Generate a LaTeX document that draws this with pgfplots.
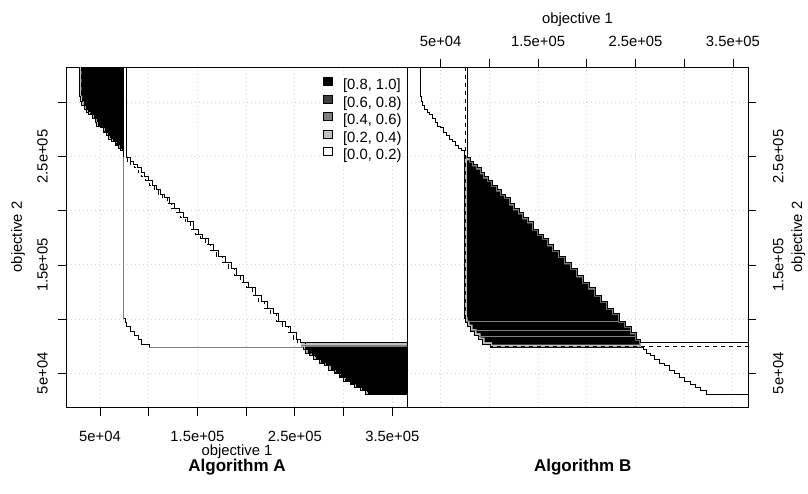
\documentclass[border=0pt]{standalone}
\usepackage{fontspec}
\setmainfont{Liberation Sans}
\usepackage{pgfplots}
\pgfplotsset{compat=1.18}
\definecolor{gA}{HTML}{BFBFBF}
\definecolor{gB}{HTML}{7F7F7F}
\definecolor{gC}{HTML}{3F3F3F}
\definecolor{gridc}{HTML}{D3D3D3}
\pgfplotsset{
  eafbase/.style={
    scale only axis, width=340.6pt, height=340pt,
    xmin=15822, xmax=365396, ymin=18911, ymax=332565,
    xtick={50000,100000,150000,200000,250000,300000,350000},
    ytick={50000,100000,150000,200000,250000,300000},
    xticklabels={5e+04,,1.5e+05,,2.5e+05,,3.5e+05},
    yticklabels={5e+04,,1.5e+05,,2.5e+05,},
    grid=major, major grid style={gridc, dash pattern=on 1pt off 3pt, line width=0.9pt},
    tick align=outside, major tick length=8.5pt,
    tick style={black, line width=0.8pt},
    axis line style={line width=0.8pt},
    scaled ticks=false,
    tick label style={font=\fontsize{14.8}{17}\selectfont},
    label style={font=\fontsize{14.8}{17}\selectfont, inner sep=0pt},
    every axis title/.style={font=\bfseries\fontsize{17}{20}\selectfont, anchor=center, inner sep=0pt, at={(0.5,-0.178)}},
  },
  best/.style={black, line width=1pt, const plot mark left, forget plot},
  worst/.style={black, line width=1pt, const plot mark left, forget plot},
  med/.style={black, line width=1pt, const plot mark left, dash pattern=on 4pt off 4pt, forget plot},
}
\begin{document}
\begin{tikzpicture}
\path[use as bounding box] (-66.7pt,-86pt) rectangle (741.3pt,407pt);
% ---------------- Algorithm A ----------------
\begin{axis}[eafbase, at={(0pt,0pt)}, anchor=south west,
  xtick pos=left, ytick pos=left,
  xticklabel shift=12pt, yticklabel shift=7pt,
  yticklabel style={rotate=90, anchor=south},
  xlabel={objective 1}, ylabel={objective 2},
  xlabel style={at={(axis description cs:0.5,-0.131)}, anchor=center},
  ylabel style={at={(axis description cs:-0.143,0.5)}, anchor=center},
  title={Algorithm A},
  legend style={at={(axis description cs:0.9894,0.9756)}, anchor=north east, draw=none, fill=white,
    inner sep=2pt, font=\fontsize{14.8}{17}\selectfont, row sep=1.5pt,
    nodes={inner sep=0pt, text height=11pt, text depth=3.5pt}},
  legend cell align=left,
  legend image code/.code={\draw[#1, line width=0.8pt] (0pt,0.3pt) rectangle (8.3pt,8.3pt); \path (19pt,0pt);},
]
% top-left region (A better)
\addplot[fill=gA, draw=none, const plot mark left, forget plot] coordinates {
(29000,340000) (29000,305800) (30000,301200) (31500,297500) (33600,293800) (36100,291000)
(38700,288300) (41800,285500) (44900,281800) (46900,278100) (50000,276300) (53100,272600)
(56200,269800) (59200,266100) (62300,263400) (65400,260600) (68500,257800) (71000,255100)
(74600,251500) (74600,340000)} -- cycle;
\addplot[fill=black, draw=none, const plot mark left, forget plot] coordinates {
(31000,340000) (31000,305800) (32000,301200) (33500,297500) (35600,293800) (38100,291000)
(40700,288300) (43800,285500) (46900,281800) (48900,278100) (52000,276300) (55100,272600)
(58200,269800) (61200,266100) (64300,263400) (67400,260600) (70500,257800) (73000,255100)
(74600,253300) (74600,340000)} -- cycle;
% bottom-right region (A better)
\addplot[fill=gA, draw=none, forget plot] coordinates {
(256000,74700) (365400,74700) (365400,78400) (256000,78400)} -- cycle;
\addplot[gB, line width=1pt, forget plot] coordinates {(256000,75300) (365400,75300)};
\addplot[fill=gA, draw=none, const plot mark left, forget plot] coordinates {
(258400,74700) (258400,71500) (261400,68700) (265500,66000) (269600,62300) (274800,59500)
(279900,57200) (285000,53000) (290200,49400) (295300,45700) (300400,42400) (306600,39700)
(311700,36900) (316900,34100) (323000,30500) (365400,30500) (365400,74700)} -- cycle;
\addplot[fill=black, draw=none, const plot mark left, forget plot] coordinates {
(260400,74700) (260400,71500) (263400,68700) (267500,66000) (271600,62300) (276800,59500)
(281900,57200) (287000,53000) (292200,49400) (297300,45700) (302400,42400) (308600,39700)
(313700,36900) (318900,34100) (325000,30500) (365400,30500) (365400,74700)} -- cycle;
% grand best
\addplot[best] coordinates {
(29000,340000) (29000,305800) (30000,301200) (31500,297500) (33600,293800) (36100,291000)
(38700,288300) (41800,285500) (44900,281800) (46900,278100) (50000,276300) (53100,272600)
(56200,269800) (59200,266100) (62300,263400) (65400,260600) (68500,257800) (71000,255100)
(74100,100100) (75700,96900) (77700,93200) (80800,89000) (84900,85300) (89000,81200)
(93100,77000) (100800,73800) (258400,71500) (261400,68700) (265500,66000) (269600,62300)
(274800,59500) (279900,57200) (285000,53000) (290200,49400) (295300,45700) (300400,42400)
(306600,39700) (311700,36900) (316900,34100) (323000,30500) (365400,30500)};
\addplot[gB, line width=1.2pt, forget plot] coordinates {(74100,251000) (74100,100100)};
\addplot[gB, line width=1.2pt, forget plot] coordinates {(100800,73800) (258400,73800)};
% grand worst
\addplot[worst] coordinates {
(77200,340000) (77200,249500) (80800,245800) (83900,242200) (88000,239400) (92100,234800)
(95200,231100) (99300,228300) (103400,223700) (108500,219100) (112600,215400) (116700,212600)
(121800,206200) (126000,201600) (131100,197900) (135200,193300) (140300,189600) (145500,183100)
(150600,178500) (155700,174800) (160900,168400) (166000,163700) (172100,158200) (178300,151800)
(184500,147100) (190600,139800) (196800,134200) (202900,128700) (209100,122200) (215300,116700)
(221400,110200) (227600,105600) (233700,98200) (239900,93600) (246000,87200) (251200,81600)
(255300,78400) (365400,78400)};
% median of A
\addplot[med] coordinates {
(31000,340000) (31000,305800) (32000,301200) (33500,297500) (35600,293800) (38100,291000)
(40700,288300) (43800,285500) (46900,281800) (48900,278100) (52000,276300) (55100,272600)
(58200,269800) (61200,266100) (64300,263400) (67400,260600) (70500,257800) (73000,255100)
(74200,249500) (77800,245800) (80900,242200) (85000,239400) (89100,234800) (92200,231100)
(96300,228300) (100400,223700) (105500,219100) (109600,215400) (113700,212600) (118800,206200)
(123000,201600) (128100,197900) (132200,193300) (137300,189600) (142500,183100) (147600,178500)
(152700,174800) (157900,168400) (163000,163700) (169100,158200) (175300,151800) (181500,147100)
(187600,139800) (193800,134200) (199900,128700) (206100,122200) (212300,116700) (218400,110200)
(224600,105600) (230700,98200) (236900,93600) (243000,87200) (248200,81600) (252300,78400)
(260400,71500) (263400,68700) (267500,66000) (271600,62300) (276800,59500) (281900,57200)
(287000,53000) (292200,49400) (297300,45700) (302400,42400) (308600,39700) (313700,36900)
(318900,34100) (325000,30500) (365400,30500)};
\addlegendimage{fill=black, draw=black}\addlegendentry{[0.8, 1.0]}
\addlegendimage{fill=gC, draw=black}\addlegendentry{[0.6, 0.8)}
\addlegendimage{fill=gB, draw=black}\addlegendentry{[0.4, 0.6)}
\addlegendimage{fill=gA, draw=black}\addlegendentry{[0.2, 0.4)}
\addlegendimage{fill=white, draw=black}\addlegendentry{[0.0, 0.2)}
\end{axis}
% ---------------- Algorithm B ----------------
\begin{axis}[eafbase, at={(340.6pt,0pt)}, anchor=south west,
  xtick pos=right, ytick pos=right, xticklabel pos=right, yticklabel pos=right,
  xticklabel shift=8pt, yticklabel shift=13pt,
  yticklabel style={rotate=90, anchor=north},
  xlabel={objective 1}, ylabel={objective 2},
  xlabel style={at={(axis description cs:0.5,1.138)}, anchor=center},
  ylabel style={at={(axis description cs:1.148,0.5)}, anchor=center, rotate=0},
  title={Algorithm B}, title style={at={(0.515,-0.178)}},
]
% mid-grey base of the B region
\addplot[fill=gB, draw=none, const plot mark left, forget plot] coordinates {
(75100,250500) (77200,249500) (80800,245800) (83900,242200) (88000,239400) (92100,234800)
(95200,231100) (99300,228300) (103400,223700) (108500,219100) (112600,215400) (116700,212600)
(121800,206200) (126000,201600) (131100,197900) (135200,193300) (140300,189600) (145500,183100)
(150600,178500) (155700,174800) (160900,168400) (166000,163700) (172100,158200) (178300,151800)
(184500,147100) (190600,139800) (196800,134200) (202900,128700) (209100,122200) (215300,116700)
(221400,110200) (227600,105600) (233700,98200) (239900,93600) (246000,87200) (251200,81600)
(255300,78400) (255300,74700) (100800,74700) (100800,77000) (93100,77000) (93100,81200)
(89000,81200) (89000,85300) (84900,85300) (84900,89000) (80800,89000) (80800,93200)
(77700,93200) (77700,96900) (75700,96900) (75700,100100) (75100,100100)} -- cycle;
% light-grey band along the median of B
\addplot[fill=gA, draw=none, const plot mark left, forget plot] coordinates {
(75100,248000) (79300,244400) (82400,240800) (86500,238000) (90600,233400) (93700,229700)
(97800,226900) (101900,222300) (107000,217700) (111100,214000) (115200,211200) (120300,204800)
(124500,200200) (129600,196500) (133700,191900) (138800,188200) (144000,181700) (149100,177100)
(154200,173400) (159400,167000) (164500,162300) (170600,156800) (176800,150400) (183000,145700)
(189100,138400) (195300,132800) (201400,127300) (207600,120800) (213800,115300) (219900,108800)
(226100,104200) (232200,96800) (238400,92200) (244500,85800) (249700,80200) (253800,77000)
(253800,74700) (100800,74700) (100800,77000) (93100,77000) (93100,81200)
(89000,81200) (89000,85300) (84900,85300) (84900,89000) (80800,89000) (80800,93200)
(77700,93200) (77700,96900) (75700,96900) (75700,100100) (75100,100100)} -- cycle;
% black core
\addplot[fill=black, draw=none, const plot mark left, forget plot] coordinates {
(77100,246500) (79300,244400) (82400,240800) (86500,238000) (90600,233400) (93700,229700)
(97800,226900) (101900,222300) (107000,217700) (111100,214000) (115200,211200) (120300,204800)
(124500,200200) (129600,196500) (133700,191900) (138800,188200) (144000,181700) (149100,177100)
(154200,173400) (159400,167000) (164500,162300) (170600,156800) (176800,150400) (183000,145700)
(189100,138400) (195300,132800) (201400,127300) (207600,120800) (213800,115300) (219900,108800)
(226100,104200) (232200,96800) (238400,92200) (244500,85800) (249700,80200) (253800,77000)
(253800,76500) (102800,76500) (102800,78800) (95100,78800) (95100,83000) (91000,83000)
(91000,87100) (86900,87100) (86900,90800) (82800,90800) (82800,95000) (79700,95000)
(79700,98700) (77700,98700) (77700,101900) (77100,101900)} -- cycle;
\addplot[gB, line width=1pt, forget plot] coordinates {(75700,97600) (232000,97600)};
\addplot[gB, line width=1pt, forget plot] coordinates {(80800,89900) (244000,89900)};
\addplot[gB, line width=1pt, forget plot] coordinates {(89000,83800) (249300,83800)};
% grand best
\addplot[best] coordinates {
(29000,340000) (29000,305800) (30000,301200) (31500,297500) (33600,293800) (36100,291000)
(38700,288300) (41800,285500) (44900,281800) (46900,278100) (50000,276300) (53100,272600)
(56200,269800) (59200,266100) (62300,263400) (65400,260600) (68500,257800) (71000,255100)
(74100,100100) (75700,96900) (77700,93200) (80800,89000) (84900,85300) (89000,81200)
(93100,77000) (100800,73800) (258400,71500) (261400,68700) (265500,66000) (269600,62300)
(274800,59500) (279900,57200) (285000,53000) (290200,49400) (295300,45700) (300400,42400)
(306600,39700) (311700,36900) (316900,34100) (323000,30500) (365400,30500)};
% grand worst
\addplot[worst] coordinates {
(77200,340000) (77200,249500) (80800,245800) (83900,242200) (88000,239400) (92100,234800)
(95200,231100) (99300,228300) (103400,223700) (108500,219100) (112600,215400) (116700,212600)
(121800,206200) (126000,201600) (131100,197900) (135200,193300) (140300,189600) (145500,183100)
(150600,178500) (155700,174800) (160900,168400) (166000,163700) (172100,158200) (178300,151800)
(184500,147100) (190600,139800) (196800,134200) (202900,128700) (209100,122200) (215300,116700)
(221400,110200) (227600,105600) (233700,98200) (239900,93600) (246000,87200) (251200,81600)
(255300,78400) (365400,78400)};
% median of B
\addplot[med] coordinates {
(75100,340000) (75100,100100) (75700,96900) (77700,93200) (80800,89000) (84900,85300)
(89000,81200) (93100,77000) (100800,74700) (365400,74700)};
\end{axis}
\end{tikzpicture}
\end{document}
